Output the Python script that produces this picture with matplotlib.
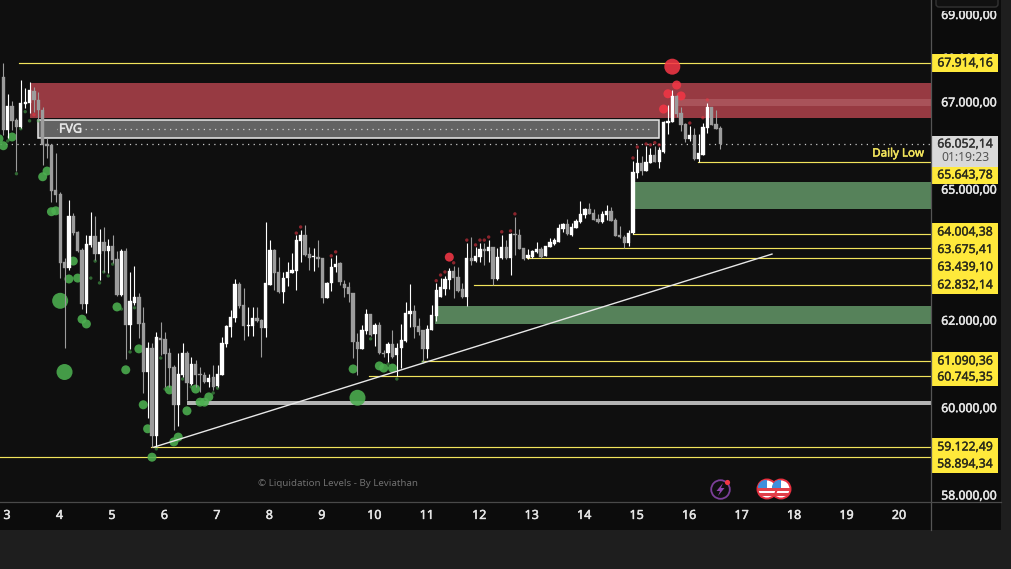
import matplotlib
matplotlib.use("Agg")
import matplotlib.pyplot as plt
import matplotlib.patheffects as pe
from matplotlib.patches import Circle, FancyBboxPatch, Rectangle, Polygon
from matplotlib.ticker import FuncFormatter
from matplotlib.transforms import ScaledTranslation
import numpy as np

# 2h candles, first one sits just before day 3
opens = [67600, 66380, 66930, 66610, 66450, 66980, 67000, 67280, 67070, 66840, 66060, 66040, 65010, 64920, 63360,
         63220, 64410, 64050, 63640, 62400, 63750, 63960, 63540, 63820, 63610, 63730, 63430, 62600, 63610, 61920,
         62420, 62560, 61960, 60840, 61390, 59380, 61620, 61600, 61280, 60960, 60090, 60770, 61280, 60570, 61020,
         60800, 60770, 60610, 60730, 60520, 60770, 61480, 61870, 62080, 62860, 62380, 61900, 61900, 62080, 62030,
         61850, 62830, 63640, 63130, 62670, 62990, 63110, 63150, 63840, 63980, 63540, 63480, 63480, 63450, 62540,
         62880, 63250, 63340, 62860, 62790, 62650, 61530, 61370, 61780, 62170, 61710, 61920, 61280, 61280, 61480,
         61230, 61390, 61550, 62170, 62240, 61900, 61800, 61370, 61800, 62120, 62560, 62740, 62950, 63150, 63020,
         62740, 62560, 63450, 63380, 63480, 63660, 63610, 63700, 62970, 63450, 63700, 63450, 64000, 63980, 63680,
         63450, 63480, 63590, 63660, 63500, 63700, 63770, 63820, 64120, 64230, 63980, 64140, 64280, 64440, 64570,
         64480, 64350, 64280, 64440, 64530, 64320, 63980, 63930, 63800, 64020, 65400, 65630, 65440, 65630, 65810,
         65650, 65880, 66540, 66570, 67160, 66770, 66520, 66180, 66270, 65720, 65810, 66430, 66910, 66520, 66430]
highs = [67920, 67210, 67050, 66660, 67530, 67350, 67480, 67370, 67250, 66910, 66200, 66060, 65860, 64960, 63450,
         64780, 64480, 64070, 63680, 63980, 64500, 64410, 64120, 64160, 63890, 63980, 63610, 63660, 63680, 63130,
         63270, 62650, 62330, 61530, 61510, 61760, 61990, 61760, 61390, 61000, 61280, 61510, 61320, 61180, 61120,
         60960, 60840, 60800, 61000, 61000, 61640, 61920, 62260, 62970, 62900, 62760, 62330, 62330, 62330, 62050,
         64280, 63860, 63660, 63480, 63130, 63360, 63570, 63980, 64090, 64210, 63700, 63680, 63860, 63450, 62900,
         63450, 63520, 63360, 62950, 62900, 62650, 61730, 61920, 62280, 62170, 61960, 61990, 61350, 61530, 61800,
         61510, 61940, 62440, 62860, 62380, 62080, 61800, 61920, 62380, 62880, 62990, 63040, 63220, 63270, 63250,
         62880, 63800, 63930, 63700, 63800, 63800, 63860, 63700, 63680, 63980, 63860, 64020, 64390, 64120, 63680,
         63660, 63640, 63820, 63700, 63730, 63910, 63910, 64230, 64250, 64350, 64250, 64350, 64760, 64600, 64710,
         64570, 64460, 64530, 64660, 64620, 64370, 64180, 63980, 64090, 65670, 65950, 65790, 66020, 65970, 66020,
         66000, 66590, 66950, 67300, 67180, 66910, 66540, 66470, 66430, 66290, 66540, 67000, 66910, 66840, 66470]
lows = [66270, 66200, 66380, 65440, 66430, 66890, 66770, 66800, 66610, 65580, 65740, 64730, 64730, 62990, 61390,
        63180, 63980, 63590, 62280, 62190, 63700, 63410, 62950, 63130, 63110, 63340, 62580, 62580, 61140, 61370,
        62380, 61620, 60360, 59790, 59120, 59120, 61230, 60500, 60500, 59510, 59610, 60730, 60200, 60540, 60500,
        60380, 60590, 60500, 60430, 60500, 60770, 61410, 61640, 61990, 62310, 61570, 61670, 61670, 61990, 61180,
        61640, 62830, 62720, 62650, 62420, 62810, 63110, 62720, 63360, 63500, 63180, 63150, 63250, 62420, 62540,
        62700, 63130, 62830, 62560, 62440, 61160, 60770, 61370, 61710, 61670, 61440, 61250, 61180, 61070, 61160,
        60750, 60930, 61530, 61870, 61620, 61690, 61070, 61160, 61800, 62010, 62560, 62600, 62740, 62540, 62670,
        62540, 62350, 63290, 63360, 63360, 63290, 63360, 62830, 62950, 63430, 63430, 63060, 63520, 63660, 63410,
        63430, 63450, 63570, 63450, 63500, 63700, 63750, 63820, 64050, 63980, 63960, 64140, 64250, 64370, 64460,
        64320, 64250, 64250, 64320, 64300, 63960, 63910, 63680, 63730, 64000, 65280, 65350, 65440, 65630, 65650,
        65510, 65860, 66290, 66570, 66680, 66360, 66110, 66130, 65700, 65650, 65810, 66310, 66500, 66410, 65950]
closes = [66380, 66930, 66590, 66450, 67000, 67020, 67300, 67070, 66840, 66040, 66020, 64990, 64890, 63340, 63220,
          64410, 64020, 63610, 62400, 63770, 63960, 63540, 63820, 63610, 63730, 63410, 62600, 63610, 61920, 62470,
          62560, 61940, 60840, 61390, 59380, 61640, 61570, 61250, 60930, 60090, 60800, 61280, 60590, 61020, 60770,
          60770, 60610, 60700, 60500, 60800, 61510, 61900, 62100, 62860, 62350, 61900, 61920, 62080, 62010, 61850,
          62880, 63640, 63110, 62670, 62990, 63130, 63180, 63860, 63980, 63520, 63450, 63500, 63430, 62540, 62880,
          63250, 63310, 62900, 62770, 62630, 61530, 61370, 61800, 62170, 61690, 61920, 61280, 61250, 61480, 61190,
          61390, 61570, 62190, 62240, 61870, 61760, 61370, 61830, 62150, 62720, 62790, 62970, 63150, 62990, 62700,
          62560, 63450, 63380, 63500, 63660, 63610, 63700, 62970, 63480, 63700, 63450, 64000, 63980, 63660, 63430,
          63520, 63610, 63660, 63480, 63730, 63820, 63860, 64140, 64230, 64000, 64160, 64300, 64460, 64570, 64460,
          64320, 64280, 64460, 64530, 64300, 63960, 63930, 63800, 64020, 65420, 65630, 65440, 65650, 65810, 65650,
          65930, 66570, 66590, 67160, 66750, 66500, 66180, 66270, 65720, 65860, 66450, 66910, 66500, 66410, 66052]

# liquidation bubbles: candle index, price, size class (0 small, 1 mid, 2 big)
green_idx = [-1, 0, 2, 1, 4, 5, 6, 8, 3, 10, 9, 11, 12, 16, 15, 17, 13, 18, 19, 21, 20, 22, 23, 24, 25, 26, 27, 30,
             31, 29, 28, 14, 32, 36, 33, 34, 35, 38, 37, 41, 44, 43, 42, 40, 39, 45, 46, 47, 48, 49, 84, 80, 86, 87,
             89, 88, 90, 81, 96]
green_price = [66180, 66020, 66220, 66130, 66410, 66800, 66590, 66590, 65380, 65440, 65310, 64510, 64530, 63380,
               62970, 62990, 62470, 62050, 61940, 63380, 62990, 62880, 63130, 63040, 63310, 62330, 62280, 62310,
               61370, 61300, 60890, 60840, 60090, 61160, 59540, 58890, 59080, 60430, 60450, 60680, 60450, 60500,
               59950, 59350, 59240, 60150, 60150, 60270, 60360, 60470, 61600, 60910, 60980, 60930, 60930, 61020,
               60680, 60250, 61070]
green_class = [1, 1, 1, 0, 0, 0, 0, 0, 0, 1, 1, 1, 1, 1, 1, 1, 2, 1, 1, 0, 0, 0, 0, 0, 0, 1, 0, 0,
               1, 0, 1, 2, 1, 0, 1, 1, 0, 1, 0, 0, 1, 0, 1, 1, 1, 1, 1, 1, 0, 0, 0, 1, 1, 1,
               1, 0, 0, 2, 0]
red_idx = [102, 103, 101, 100, 99, 106, 108, 109, 110, 111, 114, 116, 117, 68, 67, 75, 76, 7, 144, 145, 147, 148,
           149, 150, 157, 160, 161, 153, 154, 152, 155, 151]
red_price = [63470, 63340, 63130, 63060, 62930, 63860, 63750, 63860, 63860, 63930, 64050, 64070, 64460, 64160, 64020,
             63500, 63590, 66730, 65740, 65990, 66060, 66040, 66090, 66040, 66540, 66660, 67070, 67830, 67410, 67210,
             67160, 66860]
red_class = [1, 0, 0, 0, 0, 0, 0, 0, 0, 0, 0, 0, 0, 0, 0, 0, 0, 0, 0, 0, 0, 0,
             0, 0, 0, 0, 0, 2, 1, 1, 1, 1]

# horizontal levels and where they begin (day)
level_prices = [67914.16, 65643.78, 64004.38, 63675.41, 63439.10, 62832.14, 61090.36, 60745.35, 59122.49, 58894.34]
level_starts = [3.23, 16.17, 14.93, 13.90, 12.91, 11.90, 10.91, 9.90, 5.74, 2.80]
tick_prices = [58000, 60000, 62000, 65000, 67000, 68000, 69000]
day_ticks = list(range(3, 21))
last_price = 66052.14
countdown = "01:19:23"

BG = "#0f0f0f"
YELLOW = "#f2e45c"
CANDLE_UP = "#ffffff"
CANDLE_DOWN = "#9c9c9c"
RIGHT = 20.62
px_h = 1 / 52.47  # one pixel in days


def euro(v):
    return f"{v:,.2f}".replace(",", "#").replace(".", ",").replace("#", ".")


def heavy(color, w=0.35):
    # the font has no medium weight, thicken it a little
    return [pe.withStroke(linewidth=w, foreground=color)]


fig = plt.figure(figsize=(10.12, 5.69), dpi=100, facecolor="#1e1e1e")
plt.rcParams["font.family"] = ["Noto Sans", "DejaVu Sans"]

# everything outside the plot lives in pixel coords
chrome = fig.add_axes([0, 0, 1, 1], zorder=0)
chrome.set_xlim(0, 1012)
chrome.set_ylim(569, 0)
chrome.axis("off")
chrome.add_patch(Rectangle((0, 0), 1001, 530, fc="#0c0c0c", ec="none"))

ax = fig.add_axes([0, 1 - 502 / 569, 931.5 / 1012, 502 / 569], zorder=1)
ax.set_facecolor(BG)
ax.set_xlim(2.8666, RIGHT)
ax.set_ylim(57864.1, 69356.4)
for s in ax.spines.values():
    s.set_visible(False)

# zones
ax.fill_between([3.43, RIGHT], 66660, 67460, color="#973a42", lw=0, zorder=1)
ax.fill_between([15.79, RIGHT], 66930, 67090, color="#a9535a", lw=0, zorder=1.1)
ax.fill_between([14.93, RIGHT], 64570, 65190, color="#56825a", lw=0, zorder=1)
ax.fill_between([11.16, RIGHT], 61940, 62350, color="#56825a", lw=0, zorder=1)
ax.add_patch(Rectangle((3.60, 66200), 11.82, 420, fc="#636363", ec="#e8e8e8", lw=1.1, zorder=1.2))
ax.plot([3.95, 15.3], [66400, 66400], color="#d0d0d0", lw=0.9, ls=(0, (1, 3.5)), zorder=1.3)
ax.text(3.99, 66400, "FVG", color="#e6e6e6", fontsize=9, va="center", zorder=5,
        bbox=dict(fc="#636363", ec="none", pad=1), path_effects=heavy("#e6e6e6"))
ax.fill_between([6.43, RIGHT], 60090, 60180, color="#b4b4b4", lw=0, zorder=1.4)

# levels
for p, s in zip(level_prices, level_starts):
    ax.plot([s, RIGHT], [p, p], color=YELLOW, lw=0.85, zorder=2)
ax.plot([2.8666, RIGHT], [last_price, last_price], color="#c8c8c8", lw=0.9, ls=(0, (1, 3.5)), zorder=2)
ax.plot([5.80, 17.58], [59120, 63540], color="#e8e8e8", lw=1.0, zorder=6)

# bubbles, the small ones are much dimmer
diam = {0: 3.4, 1: 9, 2: 16}
fade = {0: 0.55, 1: 0.88, 2: 0.88}
day0 = 2.93
step = 1 / 12
gx = day0 + np.array(green_idx) * step
rx = day0 + np.array(red_idx) * step
ax.scatter(gx, green_price, s=[(diam[c] * 0.72) ** 2 for c in green_class],
           color=[matplotlib.colors.to_rgba("#4caf50", fade[c]) for c in green_class], lw=0, zorder=3)
ax.scatter(rx, red_price, s=[(diam[c] * 0.72) ** 2 for c in red_class],
           color=[matplotlib.colors.to_rgba("#f23645", fade[c]) for c in red_class], lw=0, zorder=3)

# candles
o = np.array(opens)
h = np.array(highs)
l = np.array(lows)
c = np.array(closes)
x = day0 + np.arange(len(o)) * step
colors = [CANDLE_UP if cl >= op else CANDLE_DOWN for op, cl in zip(o, c)]
ax.vlines(x, l, h, colors=colors, lw=0.8, zorder=4)
ax.bar(x, np.abs(c - o), bottom=np.minimum(o, c), width=3.3 * px_h, color=colors, edgecolor=colors, lw=0.25, zorder=4.5)

ax.text(924 * px_h + 2.8666, 65830, "Daily Low", color=YELLOW, fontsize=8.3, ha="right", va="center", zorder=5,
        path_effects=heavy(YELLOW))
ax.text(337.5 * px_h + 2.8666, 58280, "\u00a9 Liquidation Levels - By Leviathan", color="#707070", fontsize=7,
        ha="center", va="center", zorder=5)

# axes ticks
ax.set_xticks(day_ticks)
ax.set_xticklabels([str(d) for d in day_ticks])
ax.yaxis.tick_right()
ax.set_yticks(tick_prices)
ax.yaxis.set_major_formatter(FuncFormatter(lambda v, _: euro(v)))
ax.tick_params(axis="x", length=0, pad=5, colors="#e6e6e6", labelsize=9)
ax.tick_params(axis="y", length=0, pad=7, colors="#e6e6e6", labelsize=8.8)
lift = ScaledTranslation(0, 1.6 / 100, fig.dpi_scale_trans)
fig.canvas.draw()
for t in ax.yaxis.get_majorticklabels():
    t.set_transform(t.get_transform() + lift)
    t.set_path_effects(heavy("#e6e6e6"))
for t in ax.xaxis.get_majorticklabels():
    t.set_path_effects(heavy("#e6e6e6"))

# overlay for price tags and icons
top = fig.add_axes([0, 0, 1, 1], zorder=2)
top.set_xlim(0, 1012)
top.set_ylim(569, 0)
top.axis("off")
top.patch.set_alpha(0)
top.plot([931.5, 931.5], [0, 530], color="#555555", lw=0.9)
top.plot([0, 1001], [502, 502], color="#4a4a4a", lw=0.9)
top.add_patch(Rectangle((932.5, 0), 68, 10.5, fc="#0c0c0c", ec="none"))
top.add_patch(FancyBboxPatch((936, -8), 62, 15, boxstyle="round,pad=0,rounding_size=3", fc="#111111", ec="#333333", lw=1))

tag_y = [63, 175, 232, 249.5, 267, 285, 361, 377, 447, 464]
for p, yy in zip(level_prices, tag_y):
    top.add_patch(Rectangle((932, yy - 8.8), 66, 17.6, fc="#ffe93b", ec="none"))
    top.text(965, yy, euro(p), color="#2a2a1a", fontsize=8.8, ha="center", va="center", path_effects=heavy("#2a2a1a", 0.25))
top.add_patch(Rectangle((932, 136), 66, 31, fc="#d9d9d9", ec="none"))
top.text(965, 144, euro(last_price), color="#333333", fontsize=8.8, ha="center", va="center",
         path_effects=heavy("#333333", 0.25))
top.text(965, 157.5, countdown, color="#555555", fontsize=8.8, ha="center", va="center")


def flag(cx, cy):
    disc = Circle((cx, cy), 9.5, fc="#ffffff", ec="#e8303f", lw=1.4, zorder=8)
    top.add_patch(disc)
    for yy in (cy - 1, cy + 4):
        r = Rectangle((cx - 9, yy), 18, 2.5, fc="#e0404a", ec="none", zorder=8.1)
        top.add_patch(r)
        r.set_clip_path(disc)
    b = Rectangle((cx - 9, cy - 9), 9.5, 8, fc="#3d8fdc", ec="none", zorder=8.2)
    top.add_patch(b)
    b.set_clip_path(disc)


# small event icons under the candles
flag(781, 489)
flag(767, 489)
top.add_patch(Circle((720.5, 489.5), 9.3, fc="none", ec="#7b3f98", lw=1.3, zorder=8))
top.add_patch(Polygon([[723, 483], [716.5, 491], [720, 491], [718, 496], [724.5, 488], [721, 488]], fc="#8e44ad", ec="none", zorder=8))
top.add_patch(Circle((727.5, 482.5), 2.6, fc="#f23645", ec="none", zorder=9))

fig.savefig("out.png", dpi=100, facecolor=fig.get_facecolor())
